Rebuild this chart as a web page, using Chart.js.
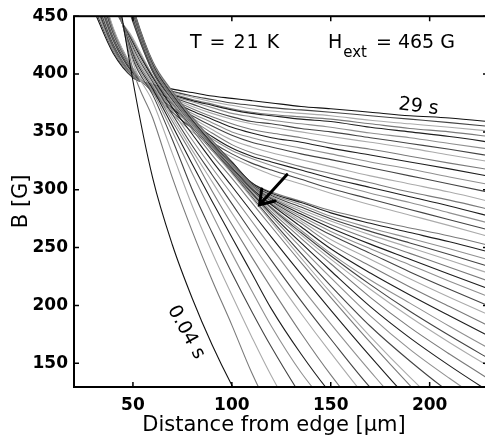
<!DOCTYPE html>
<html>
<head>
<meta charset="utf-8">
<script src="https://cdn.jsdelivr.net/npm/chart.js@4.4.0/dist/chart.umd.min.js"></script>
<style>
  html, body { margin: 0; padding: 0; background: #fff; overflow: hidden; }
  #wrap { width: 490px; height: 438px; }
</style>
</head>
<body>
<div id="wrap"><canvas id="profiles"></canvas></div>
<script>
// distance from edge (um) at which every profile is sampled
const distances = [30, 40, 50, 60, 70, 80, 90, 100, 110, 120, 135, 150, 170, 190, 210, 235];

// B (G) profiles, earliest (0.04 s) first, latest (29 s) last
const profiles = [
  [640, 500, 394, 310, 252, 206, 166, 131, 100, 72, 40, 20, 5, 0, 0, 0],
  [620, 490, 404, 362, 310, 264, 222, 183, 142, 108, 70, 40, 20, 10, 5, 0],
  [610, 485, 410, 376, 331, 286, 246, 209, 173, 139, 95, 60, 30, 15, 5, 0],
  [600, 480, 413, 382, 343, 300, 263, 228, 195, 164, 122, 85, 50, 25, 10, 0],
  [590, 478, 415, 385, 350, 314, 279, 245, 213, 182, 142, 110, 70, 40, 20, 0],
  [585, 476, 417, 387, 355, 322, 290, 259, 228, 197, 158, 124, 88, 55, 30, 10],
  [580, 474, 419, 389, 359, 330, 299, 270, 242, 215, 176, 140, 98, 65, 40, 15],
  [575, 472, 421, 391, 362, 334, 307, 280, 254, 229, 193, 159, 116, 80, 50, 25],
  [570, 470, 423, 393, 365, 338, 313, 288, 263, 239, 204, 171, 129, 95, 65, 35],
  [565, 468, 425, 395, 368, 343, 319, 296, 273, 250, 216, 184, 143, 105, 75, 40],
  [560, 466, 427, 397, 371, 348, 325, 303, 281, 259, 227, 196, 156, 118, 85, 50],
  [555, 464, 429, 398, 374, 352, 330, 310, 289, 268, 237, 207, 168, 131, 96, 60],
  [550, 462, 431, 399, 376, 355, 334, 314, 293, 272, 241, 211, 173, 138, 106, 70],
  [560, 500, 445, 402, 376, 354, 334, 315, 294, 274, 245, 217, 182, 152, 125, 96],
  [563, 502, 446, 402, 376, 354, 334, 316, 296, 277, 250, 224, 191, 162, 137, 108],
  [566, 504, 447, 403, 377, 355, 335, 316, 297, 279, 254, 230, 199, 172, 148, 120],
  [569, 506, 448, 403, 377, 355, 335, 317, 298, 281, 258, 236, 207, 181, 158, 131],
  [572, 508, 449, 404, 378, 356, 336, 317, 299, 283, 261, 240, 214, 190, 168, 142],
  [574, 510, 450, 404, 378, 356, 336, 318, 300, 284, 263, 243, 218, 195, 174, 149],
  [576, 511, 450, 405, 379, 357, 337, 318, 300, 285, 265, 245, 222, 202, 182, 158],
  [578, 512, 451, 405, 379, 357, 337, 319, 301, 287, 268, 249, 228, 209, 191, 169],
  [580, 514, 452, 406, 380, 358, 338, 319, 301, 288, 271, 253, 234, 216, 199, 178],
  [582, 515, 452, 406, 380, 358, 338, 320, 302, 289, 273, 257, 240, 223, 207, 188],
  [584, 516, 453, 407, 381, 359, 339, 320, 302, 290, 275, 261, 245, 229, 214, 196],
  [585, 517, 454, 407, 381, 359, 339, 321, 303, 291, 277, 264, 249, 235, 221, 204],
  [586, 518, 454, 408, 382, 360, 340, 321, 303, 292, 279, 267, 253, 240, 227, 211],
  [587, 519, 455, 408, 382, 360, 340, 322, 304, 293, 281, 270, 257, 245, 233, 218],
  [588, 520, 455, 409, 383, 361, 341, 322, 304, 294, 283, 273, 261, 250, 239, 225],
  [589, 521, 456, 409, 383, 361, 341, 323, 305, 295, 285, 275, 264, 254, 244, 231],
  [590, 522, 457, 410, 384, 362, 342, 323, 305, 296, 287, 277, 267, 258, 249, 237],
  [591, 523, 457, 410, 384, 362, 342, 324, 306, 297, 289, 280, 271, 263, 255, 244],
  [592, 524, 458, 411, 385, 363, 343, 324, 306, 298, 290, 282, 274, 267, 260, 250],
  [500, 440, 405, 384, 365, 350, 338, 328, 320, 313, 305, 297, 287, 278, 269, 257],
  [497, 439, 405, 384, 367, 353, 341, 331, 323, 317, 309, 301, 292, 283, 274, 263],
  [495, 437, 404, 385, 369, 356, 344, 334, 327, 321, 313, 306, 297, 289, 280, 269],
  [492, 436, 404, 385, 370, 358, 346, 336, 329, 324, 317, 310, 302, 294, 286, 275],
  [490, 435, 403, 385, 371, 360, 349, 339, 332, 327, 320, 314, 306, 298, 291, 281],
  [487, 434, 403, 386, 373, 362, 352, 343, 337, 332, 326, 320, 312, 305, 298, 288],
  [485, 432, 402, 386, 374, 364, 355, 347, 341, 337, 331, 326, 319, 312, 305, 296],
  [482, 431, 402, 386, 375, 366, 358, 350, 345, 341, 336, 331, 324, 318, 311, 303],
  [480, 430, 401, 387, 377, 368, 361, 354, 349, 345, 341, 336, 330, 324, 318, 310],
  [477, 429, 401, 387, 378, 370, 363, 357, 352, 349, 345, 340, 335, 329, 323, 316],
  [475, 428, 400, 388, 379, 372, 366, 361, 357, 354, 350, 346, 341, 336, 330, 323],
  [472, 426, 400, 388, 380, 374, 368, 363, 359, 357, 353, 350, 345, 340, 335, 328],
  [470, 425, 399, 389, 381, 376, 371, 366, 363, 360, 357, 354, 349, 345, 340, 334],
  [467, 424, 399, 389, 382, 377, 373, 369, 366, 364, 361, 359, 354, 350, 346, 340],
  [465, 422, 398, 390, 383, 378, 374, 370, 367, 365, 363, 361, 357, 353, 350, 345],
  [462, 421, 398, 390, 384, 380, 376, 373, 370, 368, 366, 364, 360, 357, 354, 350],
  [459, 420, 397, 391, 385, 381, 378, 375, 373, 371, 369, 367, 364, 361, 358, 354],
  [456, 418, 397, 391, 387, 384, 381, 379, 377, 375, 372, 370, 367, 364, 362, 358]
];

const xTicks = [50, 100, 150, 200];
const yTicks = [150, 200, 250, 300, 350, 400, 450];

// annotation anchors in data units
const firstLabel = { text: '0.04 s', x: 76.8, y: 176.8 };
const lastLabel = { text: '29 s', x: 184.0, y: 369.5 };
const arrowTail = [127.8, 313];
const arrowTip = [114, 287];

const shades = ['#1e1e1e', '#7a7a7a', '#ababab', '#444444', '#909090'];

const datasets = profiles.map((p, i) => ({
  data: p.map((b, k) => ({ x: distances[k], y: b })),
  borderColor: (i === 0 || i === profiles.length - 1) ? '#111' : shades[i % shades.length],
  borderWidth: 1.1,
  pointRadius: 0,
  fill: false,
  cubicInterpolationMode: 'monotone'
}));

const frame = {
  id: 'frame',
  afterDatasetsDraw(chart) {
    const { ctx, chartArea: a, scales: { x, y } } = chart;
    ctx.save();
    ctx.strokeStyle = '#000';
    ctx.lineWidth = 2;
    ctx.strokeRect(a.left, a.top, a.right - a.left, a.bottom - a.top);

    // inward ticks
    ctx.lineWidth = 1.5;
    ctx.beginPath();
    xTicks.forEach(v => {
      const px = x.getPixelForValue(v);
      ctx.moveTo(px, a.bottom); ctx.lineTo(px, a.bottom - 5);
      ctx.moveTo(px, a.top); ctx.lineTo(px, a.top + 5);
    });
    yTicks.forEach(v => {
      const py = y.getPixelForValue(v);
      ctx.moveTo(a.left, py); ctx.lineTo(a.left + 5, py);
      ctx.moveTo(a.right, py); ctx.lineTo(a.right - 5, py);
    });
    ctx.stroke();

    // arrow pointing at the kink
    const tx = x.getPixelForValue(arrowTail[0]), ty = y.getPixelForValue(arrowTail[1]);
    const hx = x.getPixelForValue(arrowTip[0]), hy = y.getPixelForValue(arrowTip[1]);
    const ang = Math.atan2(hy - ty, hx - tx);
    ctx.lineWidth = 3;
    ctx.lineCap = 'round';
    ctx.beginPath();
    ctx.moveTo(tx, ty); ctx.lineTo(hx, hy);
    ctx.moveTo(hx - 16 * Math.cos(ang - 0.6), hy - 16 * Math.sin(ang - 0.6));
    ctx.lineTo(hx, hy);
    ctx.lineTo(hx - 16 * Math.cos(ang + 0.6), hy - 16 * Math.sin(ang + 0.6));
    ctx.stroke();

    ctx.fillStyle = '#000';
    ctx.textBaseline = 'alphabetic';

    // header: T and H_ext
    ctx.font = '19px "DejaVu Sans"';
    ctx.letterSpacing = '1px';
    ctx.fillText('T = 21 K', x.getPixelForValue(78.8), y.getPixelForValue(422.5));
    ctx.letterSpacing = '0px';
    let hxPos = x.getPixelForValue(148.6);
    const hyPos = y.getPixelForValue(422.5);
    ctx.fillText('H', hxPos, hyPos);
    hxPos += ctx.measureText('H').width + 1;
    ctx.font = '15px "DejaVu Sans"';
    ctx.fillText('ext', hxPos, hyPos + 9);
    hxPos += ctx.measureText('ext').width + 9;
    ctx.font = '19px "DejaVu Sans"';
    ctx.fillText('= 465 G', hxPos, hyPos);

    // time labels
    ctx.save();
    ctx.translate(x.getPixelForValue(lastLabel.x), y.getPixelForValue(lastLabel.y));
    ctx.rotate(7 * Math.PI / 180);
    ctx.fillText(lastLabel.text, 0, 0);
    ctx.restore();

    ctx.save();
    ctx.translate(x.getPixelForValue(firstLabel.x), y.getPixelForValue(firstLabel.y));
    ctx.rotate(61 * Math.PI / 180);
    ctx.textAlign = 'center';
    ctx.textBaseline = 'middle';
    ctx.fillText(firstLabel.text, 0, 0);
    ctx.restore();

    // axis titles
    ctx.font = '21px "DejaVu Sans"';
    ctx.textAlign = 'center';
    ctx.fillText('Distance from edge [\u03bcm]', x.getPixelForValue(121.3), a.bottom + 44);
    ctx.save();
    ctx.translate(22, y.getPixelForValue(290));
    ctx.rotate(-Math.PI / 2);
    ctx.textBaseline = 'middle';
    ctx.fillText('B [G]', 0, 0);
    ctx.restore();

    ctx.restore();
  }
};

new Chart(document.getElementById('profiles'), {
  type: 'line',
  data: { datasets },
  plugins: [frame],
  options: {
    responsive: true,
    maintainAspectRatio: false,
    animation: false,
    layout: { padding: { top: 14, right: 2, left: 0, bottom: 0 } },
    plugins: { legend: { display: false }, tooltip: { enabled: false } },
    scales: {
      x: {
        type: 'linear',
        min: 20.2,
        max: 229.5,
        afterBuildTicks: s => { s.ticks = xTicks.map(v => ({ value: v })); },
        afterFit: s => { s.height = 51; },
        grid: { display: false, drawTicks: false },
        border: { display: false },
        ticks: { color: '#000', padding: 8, font: { family: 'DejaVu Sans', size: 17, weight: 'bold' } }
      },
      y: {
        type: 'linear',
        min: 129.5,
        max: 450,
        afterBuildTicks: s => { s.ticks = yTicks.map(v => ({ value: v })); },
        afterFit: s => { s.width = 74; },
        grid: { display: false, drawTicks: false },
        border: { display: false },
        ticks: { color: '#000', padding: 6, font: { family: 'DejaVu Sans', size: 17, weight: 'bold' } }
      }
    }
  }
});
</script>
</body>
</html>
